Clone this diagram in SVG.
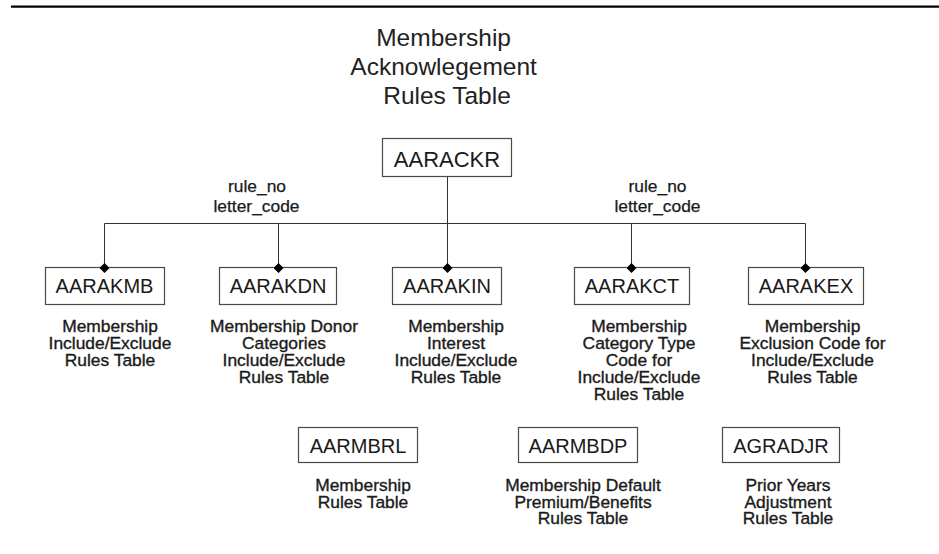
<svg xmlns="http://www.w3.org/2000/svg" width="939" height="554" viewBox="0 0 939 554">
  <defs>
    <style>
      .bg { fill: #ffffff; }
      .rule { stroke: #000; stroke-width: 2.2; }
      .title { font-family: "Liberation Sans", Arial, sans-serif; font-size: 24.5px; fill: #222; text-anchor: middle; }
      .box { fill: #fff; stroke: #4a4a4a; stroke-width: 1.2; }
      .name { font-family: "Liberation Sans", Arial, sans-serif; font-size: 20px; fill: #1a1a1a; text-anchor: middle; }
      .name-lg { font-size: 22px; }
      .desc { font-family: "Liberation Sans", Arial, sans-serif; font-size: 17.4px; fill: #1a1a1a; stroke: #1a1a1a; stroke-width: 0.35; text-anchor: middle; }
      .key { font-family: "Liberation Sans", Arial, sans-serif; font-size: 17.4px; fill: #1a1a1a; stroke: #1a1a1a; stroke-width: 0.25; text-anchor: middle; }
      .link { fill: none; stroke: #333; stroke-width: 1; }
    </style>
    <marker id="diamond" viewBox="-5 -5 10 10" refX="0" refY="0" markerWidth="10" markerHeight="10" markerUnits="userSpaceOnUse" orient="auto">
      <path d="M0,-5 L5,0 L0,5 L-5,0 Z" fill="#000"/>
    </marker>
  </defs>

  <rect class="bg" x="0" y="0" width="939" height="554"/>
  <line class="rule" x1="11" y1="6.7" x2="939" y2="6.7"/>

  <text class="title">
    <tspan x="447" y="46">Membership</tspan>
    <tspan x="447" y="75">Acknowlegement</tspan>
    <tspan x="447" y="104">Rules Table</tspan>
  </text>

  <g id="AARACKR">
    <rect class="box" x="382.5" y="138.5" width="129" height="38"/>
    <text class="name name-lg" x="447" y="167">AARACKR</text>
  </g>

  <g id="AARAKMB">
    <rect class="box" x="45.5" y="267.5" width="119" height="37"/>
    <text class="name" x="104.5" y="293">AARAKMB</text>
    <text class="desc"><tspan x="110" y="332">Membership</tspan><tspan x="110" y="349">Include/Exclude</tspan><tspan x="110" y="366">Rules Table</tspan></text>
  </g>

  <g id="AARAKDN">
    <rect class="box" x="219.5" y="267.5" width="117" height="37"/>
    <text class="name" x="278" y="293">AARAKDN</text>
    <text class="desc"><tspan x="284" y="332">Membership Donor</tspan><tspan x="284" y="349">Categories</tspan><tspan x="284" y="366">Include/Exclude</tspan><tspan x="284" y="383">Rules Table</tspan></text>
  </g>

  <g id="AARAKIN">
    <rect class="box" x="392.5" y="267.5" width="109" height="37"/>
    <text class="name" x="447" y="293">AARAKIN</text>
    <text class="desc"><tspan x="456" y="332">Membership</tspan><tspan x="456" y="349">Interest</tspan><tspan x="456" y="366">Include/Exclude</tspan><tspan x="456" y="383">Rules Table</tspan></text>
  </g>

  <g id="AARAKCT">
    <rect class="box" x="574.5" y="267.5" width="115" height="37"/>
    <text class="name" x="632" y="293">AARAKCT</text>
    <text class="desc"><tspan x="639" y="332">Membership</tspan><tspan x="639" y="349">Category Type</tspan><tspan x="639" y="366">Code for</tspan><tspan x="639" y="383">Include/Exclude</tspan><tspan x="639" y="400">Rules Table</tspan></text>
  </g>

  <g id="AARAKEX">
    <rect class="box" x="748.5" y="267.5" width="115" height="37"/>
    <text class="name" x="806" y="293">AARAKEX</text>
    <text class="desc"><tspan x="812.5" y="332">Membership</tspan><tspan x="812.5" y="349">Exclusion Code for</tspan><tspan x="812.5" y="366">Include/Exclude</tspan><tspan x="812.5" y="383">Rules Table</tspan></text>
  </g>

  <g id="AARMBRL">
    <rect class="box" x="298.5" y="427.5" width="119" height="35"/>
    <text class="name" x="358" y="452.5">AARMBRL</text>
    <text class="desc"><tspan x="363" y="491">Membership</tspan><tspan x="363" y="508">Rules Table</tspan></text>
  </g>

  <g id="AARMBDP">
    <rect class="box" x="518.5" y="427.5" width="119" height="35"/>
    <text class="name" x="578" y="452.5">AARMBDP</text>
    <text class="desc"><tspan x="583" y="491">Membership Default</tspan><tspan x="583" y="507.5">Premium/Benefits</tspan><tspan x="583" y="524">Rules Table</tspan></text>
  </g>

  <g id="AGRADJR">
    <rect class="box" x="722.5" y="427.5" width="117" height="35"/>
    <text class="name" x="781" y="452.5">AGRADJR</text>
    <text class="desc"><tspan x="788" y="491">Prior Years</tspan><tspan x="788" y="507.5">Adjustment</tspan><tspan x="788" y="524">Rules Table</tspan></text>
  </g>

  <!-- connectors: drawn last so the diamond ends sit on the box edges -->
  <g id="connectors">
    <path class="link" d="M104.5,223.5 H805.5"/>
    <path class="link" d="M104.5,223.5 V268" marker-end="url(#diamond)"/>
    <path class="link" d="M278.5,223.5 V268" marker-end="url(#diamond)"/>
    <path class="link" d="M447.5,176.5 V268" marker-end="url(#diamond)"/>
    <path class="link" d="M631.5,223.5 V268" marker-end="url(#diamond)"/>
    <path class="link" d="M805.5,223.5 V268" marker-end="url(#diamond)"/>
    <text class="key"><tspan x="257" y="192">rule_no</tspan><tspan x="256.5" y="211.5">letter_code</tspan></text>
    <text class="key"><tspan x="657.5" y="192">rule_no</tspan><tspan x="657.5" y="211.5">letter_code</tspan></text>
  </g>
</svg>
